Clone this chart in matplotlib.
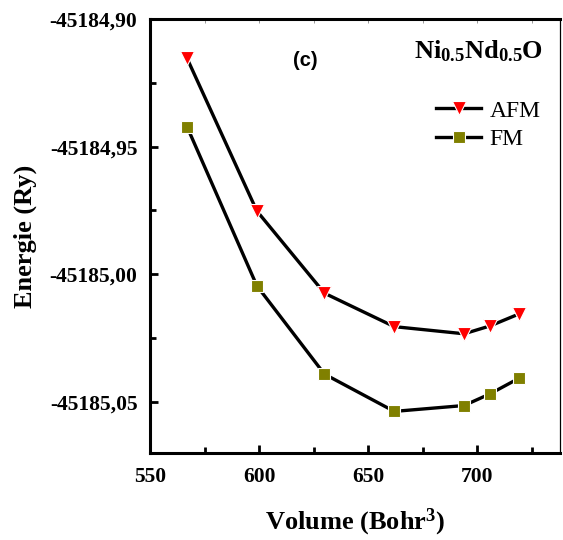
import matplotlib
matplotlib.use("Agg")
import matplotlib.pyplot as plt
from matplotlib.ticker import FixedLocator, FuncFormatter, MultipleLocator

plt.rcParams['font.family'] = ['Liberation Serif', 'DejaVu Serif']
plt.rcParams['font.weight'] = 'bold'
plt.rcParams['mathtext.fontset'] = 'custom'
plt.rcParams['mathtext.rm'] = 'Liberation Serif:bold'
plt.rcParams['mathtext.bf'] = 'Liberation Serif:bold'
plt.rcParams['mathtext.it'] = 'Liberation Serif:bold'

volume_afm = [567, 599, 630, 662, 694, 706, 719]
energy_afm = [-45184.9154, -45184.9752, -45185.0074, -45185.0205,
              -45185.0233, -45185.0202, -45185.0156]
volume_fm = [567, 599, 630, 662, 694, 706, 719]
energy_fm = [-45184.9422, -45185.0045, -45185.0391, -45185.0537,
             -45185.0514, -45185.0468, -45185.0408]
y_ticks = [-45185.05, -45185.00, -45184.95, -45184.90]
x_ticks = [550, 600, 650, 700]

fig = plt.figure(figsize=(5.63, 5.40), dpi=100)
ax = fig.add_axes([0.2664, 0.1611, 0.7283, 0.8037])

ax.plot(volume_afm, energy_afm, color='black', lw=2.4, marker='v', ms=10.5,
        mfc='#ff0000', mec='white', mew=0.8, label='AFM')
ax.plot(volume_fm, energy_fm, color='black', lw=2.4, marker='s', ms=8.5,
        mfc='#808000', mec='white', mew=0.8, label='FM')

ax.set_xlim(550, 738)
ax.set_ylim(-45185.07, -45184.90)

ax.xaxis.set_major_locator(FixedLocator(x_ticks))
ax.xaxis.set_minor_locator(MultipleLocator(25))
ax.yaxis.set_major_locator(FixedLocator(y_ticks))
ax.yaxis.set_minor_locator(FixedLocator([-45185.075, -45185.025, -45184.975, -45184.925]))
ax.yaxis.set_major_formatter(FuncFormatter(lambda v, p: f"{v:.2f}".replace('.', ',')))
ax.xaxis.set_major_formatter(FuncFormatter(lambda v, p: f"{v:.0f}"))

ax.tick_params(axis='both', which='major', direction='in', length=6, width=2,
               top=False, right=False, labelsize=15.5)
ax.tick_params(axis='both', which='minor', direction='in', length=4, width=2,
               top=False, right=False)
ax.tick_params(axis='y', which='major', pad=9)
ax.tick_params(axis='x', which='major', pad=10)

# faint ticks on top spine
secx = ax.secondary_xaxis('top')
secx.xaxis.set_major_locator(FixedLocator(x_ticks))
secx.xaxis.set_minor_locator(MultipleLocator(25))
secx.tick_params(axis='x', which='both', direction='in', length=3, width=0.6,
                 color='#888888', labeltop=False)
secx.spines['top'].set_visible(False)

for s in ['left', 'bottom', 'top']:
    ax.spines[s].set_linewidth(2.2)
ax.spines['right'].set_linewidth(0.9)

ax.set_xlabel(r'Volume (Bohr$^{3}$)', fontweight='bold', fontsize=19, labelpad=14)
ax.set_ylabel('Energie (Ry)', fontweight='bold', fontsize=19, labelpad=9)

ax.text(0.378, 0.905, '(c)', transform=ax.transAxes, fontfamily='Liberation Sans',
        fontweight='bold', fontsize=14.5, ha='center', va='center')
ax.text(0.80, 0.925, r'$\mathbf{Ni_{0.5}Nd_{0.5}O}$', transform=ax.transAxes,
        fontsize=19, ha='center', va='center')

leg = ax.legend(loc='upper left', bbox_to_anchor=(0.675, 0.835), frameon=False,
                prop={'family': 'Liberation Serif', 'weight': 'normal', 'size': 17},
                handlelength=1.9, handletextpad=0.35, labelspacing=0.3,
                borderaxespad=0.0)

fig.savefig('out.png', dpi=100)
